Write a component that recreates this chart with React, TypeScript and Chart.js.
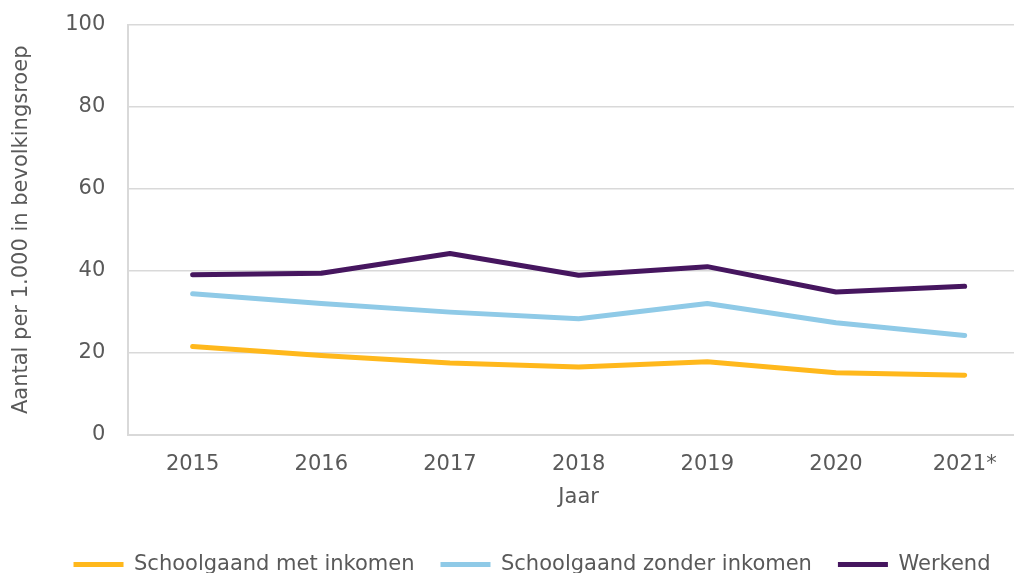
import React, { useEffect, useRef } from "react";
import { Chart, registerables } from "chart.js";

Chart.register(...registerables);

const categories = ["2015", "2016", "2017", "2018", "2019", "2020", "2021*"];
const schoolMet = [21.5, 19.3, 17.5, 16.5, 17.8, 15.1, 14.5];
const schoolZonder = [34.4, 32.0, 29.9, 28.3, 32.0, 27.3, 24.2];
const werkend = [39.0, 39.4, 44.2, 38.9, 41.0, 34.8, 36.2];
const seriesNames = ["Schoolgaand met inkomen", "Schoolgaand zonder inkomen", "Werkend"];
const yTicks = [0, 20, 40, 60, 80, 100];

const COLORS = ["#FFB81C", "#8FCAE7", "#46165F"];
const FS = 21;

const legendShift = {
  id: "legendShift",
  afterLayout(chart: any) {
    if (chart.legend) {
      chart.legend.left += 13;
      chart.legend.right += 13;
    }
  },
};

export default function App() {
  const ref = useRef<HTMLCanvasElement | null>(null);
  useEffect(() => {
    if (!ref.current) return;
    Chart.defaults.font.family = "'DejaVu Sans', Verdana, sans-serif";
    Chart.defaults.font.size = FS;
    Chart.defaults.color = "#595959";
    const data = [schoolMet, schoolZonder, werkend];
    const chart = new Chart(ref.current, {
      type: "line",
      data: {
        labels: categories,
        datasets: data.map((d, i) => ({
          label: seriesNames[i],
          data: d,
          borderColor: COLORS[i],
          backgroundColor: COLORS[i],
          borderWidth: 5,
          borderCapStyle: "round" as const,
          borderJoinStyle: "round" as const,
          pointRadius: 0,
          pointHoverRadius: 0,
          pointStyle: "line" as const,
          tension: 0,
          fill: false,
        })),
      },
      plugins: [legendShift],
      options: {
        responsive: false,
        animation: false,
        layout: { padding: { top: 25, left: 9, right: 35, bottom: 0 } },
        plugins: {
          tooltip: { enabled: false },
          legend: {
            position: "bottom",
            labels: {
              usePointStyle: true,
              pointStyleWidth: 50,
              boxHeight: 5,
              padding: 26,
              color: "#595959",
              font: { size: FS },
            },
          },
        },
        scales: {
          x: {
            offset: true,
            grid: { display: false, drawTicks: false },
            border: { display: true, color: "#d9d9d9", width: 2 },
            ticks: { padding: 17, color: "#595959", font: { size: FS } },
            title: {
              display: true,
              text: "Jaar",
              color: "#595959",
              font: { size: FS },
              padding: { top: -9, bottom: 18 },
            },
          },
          y: {
            min: 0,
            max: 100,
            afterBuildTicks: (axis: any) => {
              axis.ticks = yTicks.map((v) => ({ value: v }));
            },
            afterFit: (axis: any) => {
              axis.paddingTop = 0;
              axis.paddingBottom = 0;
            },
            grid: { color: "#d9d9d9", lineWidth: 1.5, drawTicks: false },
            border: { display: true, color: "#d9d9d9", width: 2 },
            ticks: { padding: 23, color: "#595959", font: { size: FS } },
            title: {
              display: true,
              text: "Aantal per 1.000 in bevolkingsroep",
              color: "#595959",
              font: { size: FS },
              padding: { top: 0, bottom: 8 },
            },
          },
        },
      },
    });
    return () => chart.destroy();
  }, []);
  return (
    <div
      style={{
        position: "fixed",
        left: 0,
        top: 0,
        width: 1014,
        height: 573,
        overflow: "hidden",
        background: "#fff",
      }}
    >
      <canvas ref={ref} width={1064} height={585} style={{ display: "block" }} />
    </div>
  );
}
